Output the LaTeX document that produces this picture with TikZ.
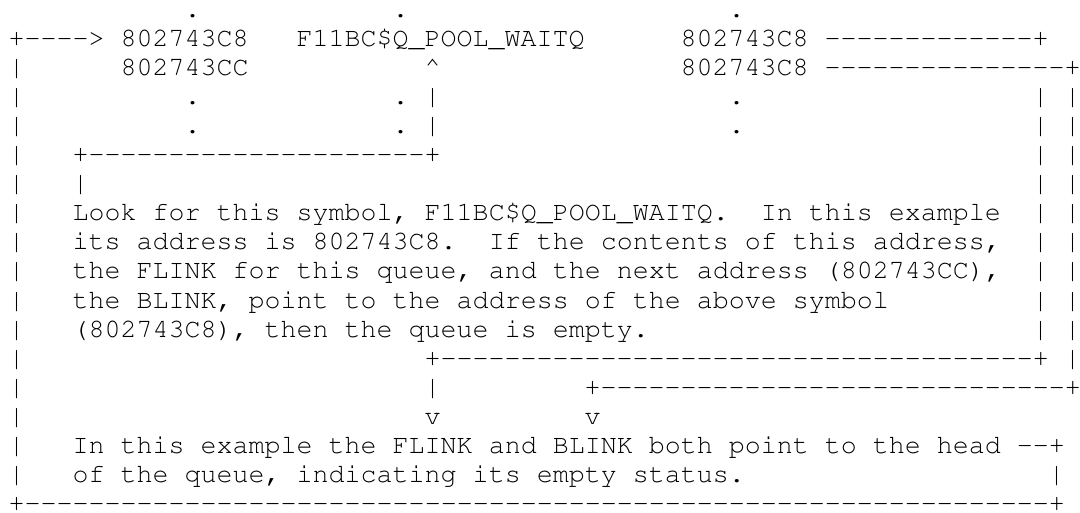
\documentclass[tikz,border=0pt]{standalone}
\usepackage[T1]{fontenc}
\usepackage{courier}

\newcommand{\dashrun}[1]{\foreach \k in {1,...,#1}{-}}
\tikzset{ascii/.style={anchor=base west, inner sep=0pt,
    font=\ttfamily\fontsize{26.67pt}{29.1pt}\selectfont\frenchspacing}}

\begin{document}
\begin{tikzpicture}[x=16pt, y=-29.1pt, shift={(8.5pt,-17pt)}]
    \useasboundingbox (-8.5pt,17pt) rectangle (1071.5pt,-495pt);

    % dots above the queue header
    \node[ascii] (dotL) at (11,0) {.};
    \node[ascii] (dotM) at (24,0) {.};
    \node[ascii] (dotR) at (45,0) {.};

    % header: address, symbol, contents
    \node[ascii] (entry) at (0,1) {+\dashrun{4}>};
    \node[ascii] (flink) at (7,1) {802743C8};
    \node[ascii] (sym) at (18,1) {F11BC\$Q\_POOL\_WAITQ};
    \node[ascii] (fval) at (42,1) {802743C8};
    \node[ascii] (fout) at (51,1) {\dashrun{13}+};
    \node[ascii] (blink) at (7,2) {802743CC};
    \node[ascii] (up) at (26,2) {\textasciicircum};
    \node[ascii] (bval) at (42,2) {802743C8};
    \node[ascii] (bout) at (51,2) {\dashrun{15}+};

    \foreach \r in {3,4} {
        \node[ascii] (dl\r) at (11,\r) {.};
        \node[ascii] (dm\r) at (24,\r) {.};
        \node[ascii] (up\r) at (26,\r) {|};
        \node[ascii] (dr\r) at (45,\r) {.};
    }
    \node[ascii] (symbox) at (4,5) {+\dashrun{21}+};
    \node[ascii] (down) at (4,6) {|};

    % explanation
    \node[ascii] (txt1) at (4,7) {Look for this symbol, F11BC\$Q\_POOL\_WAITQ.\ \ In this example};
    \node[ascii] (txt2) at (4,8) {its address is 802743C8.\ \ If the contents of this address,};
    \node[ascii] (txt3) at (4,9) {the FLINK for this queue, and the next address (802743CC),};
    \node[ascii] (txt4) at (4,10) {the BLINK, point to the address of the above symbol};
    \node[ascii] (txt5) at (4,11) {(802743C8), then the queue is empty.};

    % FLINK and BLINK loops
    \foreach \r in {3,...,11} {
        \node[ascii] (fl\r) at (64,\r) {|};
    }
    \foreach \r in {3,...,12} {
        \node[ascii] (bl\r) at (66,\r) {|};
    }
    \node[ascii] (fret) at (26,12) {+\dashrun{37}+};
    \node[ascii] (fdown) at (26,13) {|};
    \node[ascii] (bret) at (36,13) {+\dashrun{29}+};
    \node[ascii] (fhead) at (26,14) {v};
    \node[ascii] (bhead) at (36,14) {v};

    % conclusion
    \node[ascii] (end1) at (4,15) {In this example the FLINK and BLINK both point to the head \dashrun{2}+};
    \node[ascii] (end2) at (4,16) {of the queue, indicating its empty status.};
    \node[ascii] (endbar) at (65,16) {|};

    % outer return line
    \foreach \r in {2,...,16} {
        \node[ascii] (left\r) at (0,\r) {|};
    }
    \node[ascii] (bottom) at (0,17) {+\dashrun{64}+};
\end{tikzpicture}
\end{document}
